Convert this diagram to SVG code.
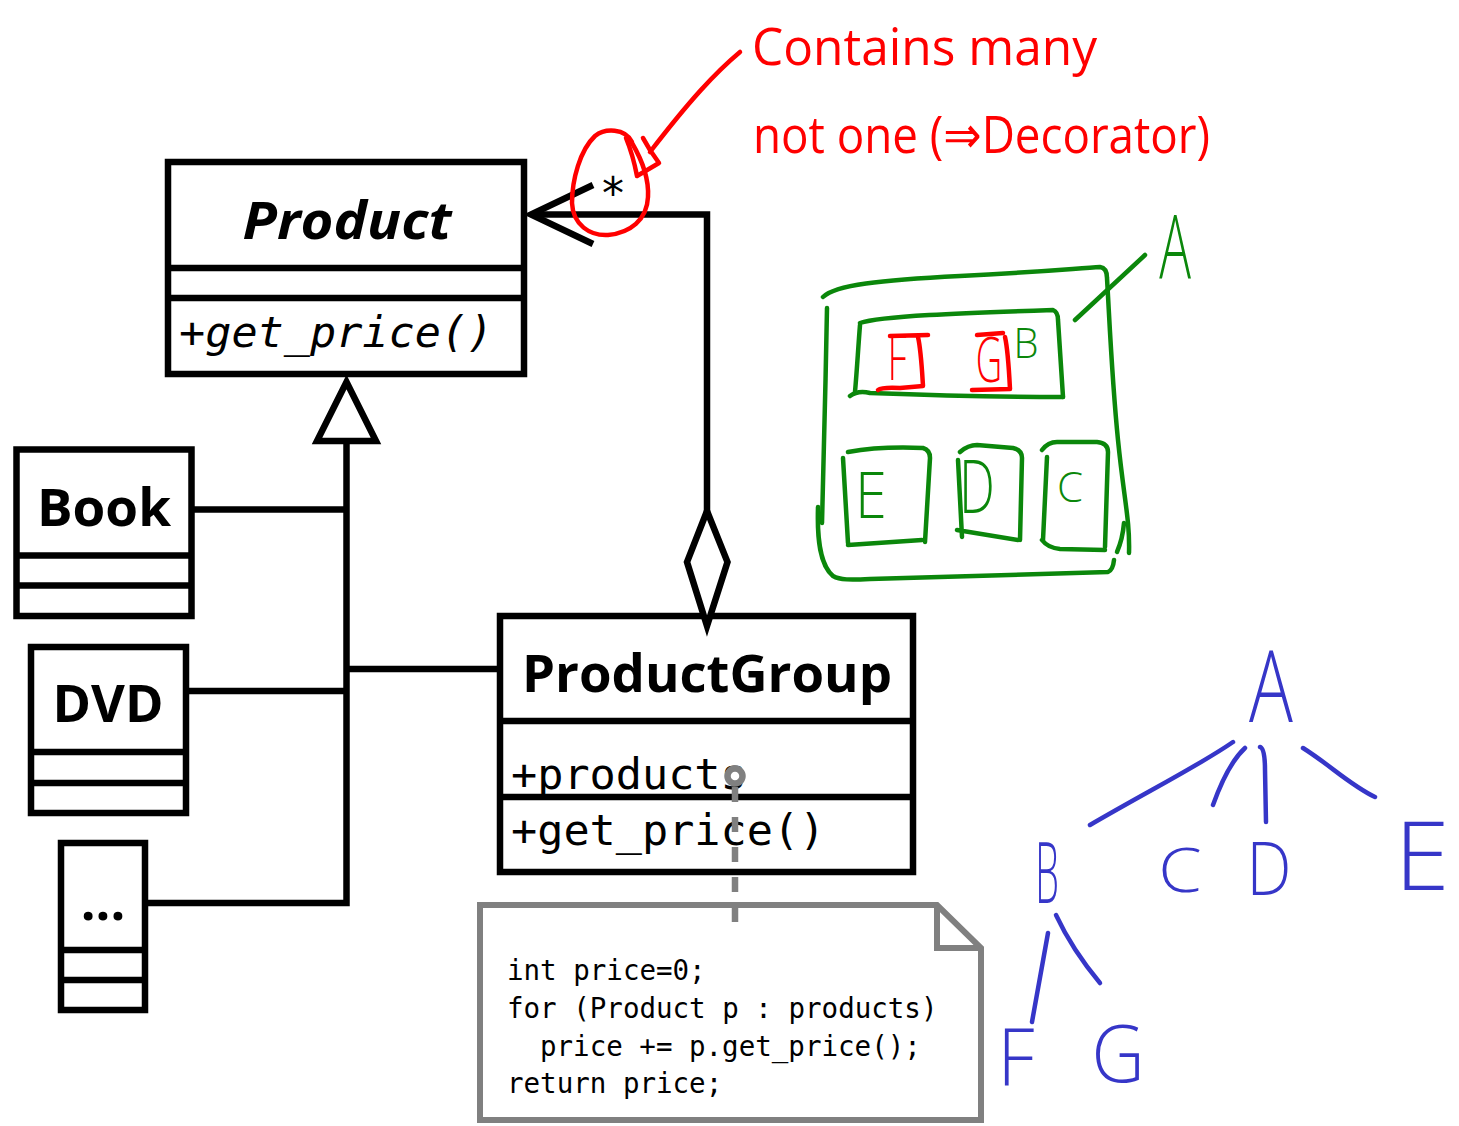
<svg xmlns="http://www.w3.org/2000/svg" width="1459" height="1126" viewBox="0 0 1459 1126">
  <style>
    .box { fill: #ffffff; stroke: #000000; stroke-width: 6.5; }
    .line { fill: none; stroke: #000000; stroke-width: 6.5; stroke-linejoin: miter; }
    .title { font-family: "Open Sans", "Liberation Sans", sans-serif; font-weight: 700; font-size: 52px; fill: #000; text-anchor: middle; }
    .mono { font-family: "DejaVu Sans Mono", "Liberation Mono", monospace; font-size: 43.5px; fill: #000; }
    .code { font-family: "DejaVu Sans Mono", "Liberation Mono", monospace; font-size: 27.5px; fill: #000; }
    .note { fill: #ffffff; stroke: #808080; stroke-width: 6; }
    .ink { fill: none; stroke-width: 4.5; stroke-linecap: round; stroke-linejoin: round; }
    .red { stroke: #ff0000; }
    .green { stroke: #0b870b; }
    .blue { stroke: #3636c8; }
    .hand { font-family: "Open Sans", "Liberation Sans", sans-serif; font-weight: 300; text-anchor: middle; }
    .redtext { font-family: "Open Sans", "Liberation Sans", "DejaVu Sans", sans-serif; font-size: 52px; fill: #ff0000; }
  </style>

  <rect width="1459" height="1126" fill="#ffffff"/>

  <!-- Product (abstract class) -->
  <g id="product">
    <rect class="box" x="168" y="162" width="356" height="212"/>
    <line class="line" x1="168" y1="268" x2="524" y2="268"/>
    <line class="line" x1="168" y1="298" x2="524" y2="298"/>
    <text class="title" x="347" y="239" font-style="italic" textLength="209" lengthAdjust="spacingAndGlyphs">Product</text>
    <text class="mono" x="179" y="347" font-style="italic">+get_price()</text>
  </g>

  <!-- Book -->
  <g id="book">
    <rect class="box" x="16.5" y="449.5" width="175" height="166.5"/>
    <line class="line" x1="16.5" y1="555.5" x2="191.5" y2="555.5"/>
    <line class="line" x1="16.5" y1="585.5" x2="191.5" y2="585.5"/>
    <text class="title" x="104" y="526" textLength="134" lengthAdjust="spacingAndGlyphs">Book</text>
  </g>

  <!-- DVD -->
  <g id="dvd">
    <rect class="box" x="31" y="647" width="155" height="166"/>
    <line class="line" x1="31" y1="752" x2="186" y2="752"/>
    <line class="line" x1="31" y1="783" x2="186" y2="783"/>
    <text class="title" x="108" y="722" textLength="111" lengthAdjust="spacingAndGlyphs">DVD</text>
  </g>

  <!-- further subclasses -->
  <g id="more">
    <rect class="box" x="61" y="843" width="84" height="167"/>
    <line class="line" x1="61" y1="950" x2="145" y2="950"/>
    <line class="line" x1="61" y1="980" x2="145" y2="980"/>
    <text class="title" x="103" y="920">...</text>
  </g>

  <!-- ProductGroup -->
  <g id="productgroup">
    <rect x="500" y="616" width="413" height="256" fill="#ffffff"/>
    <text class="title" x="707" y="692" textLength="370" lengthAdjust="spacingAndGlyphs">ProductGroup</text>
    <text class="mono" x="511" y="789">+products</text>
    <text class="mono" x="511" y="845">+get_price()</text>
    <rect class="box" x="500" y="616" width="413" height="256" fill="none" style="fill:none"/>
    <line class="line" x1="500" y1="721" x2="913" y2="721"/>
    <line class="line" x1="500" y1="797" x2="913" y2="797"/>
  </g>

  <!-- note with the get_price() implementation -->
  <g id="note">
    <path class="note" d="M 480 905 H 937 L 981 948 V 1120 H 480 Z"/>
    <path class="note" d="M 937 905 V 948 H 981" fill="none" style="fill:none"/>
    <text class="code" x="507" y="980">int price=0;</text>
    <text class="code" x="507" y="1018">for (Product p : products)</text>
    <text class="code" x="540" y="1056">price += p.get_price();</text>
    <text class="code" x="507" y="1093">return price;</text>
  </g>

  <!-- connectors -->
  <g id="connectors">
    <!-- generalization to Product -->
    <path class="line" d="M 145 903 H 346.5 V 441"/>
    <line class="line" x1="191.5" y1="509.5" x2="346.5" y2="509.5"/>
    <line class="line" x1="186" y1="691" x2="346.5" y2="691"/>
    <line class="line" x1="346.5" y1="669" x2="500" y2="669"/>
    <path class="line" d="M 346.5 382 L 376 441 L 317 441 Z" fill="#ffffff" style="fill:#ffffff"/>
    <!-- aggregation ProductGroup -> Product (many) -->
    <path class="line" d="M 707 512 V 214.5 H 532"/>
    <path class="line" d="M 593 185 L 531 214.5 L 593 244"/>
    <path class="line" d="M 707 511 L 727.5 562 L 707 626 L 687 562 Z" fill="#ffffff" style="fill:#ffffff"/>
    <text x="613" y="209" font-family="DejaVu Sans, sans-serif" font-size="44" text-anchor="middle">*</text>
    <!-- note anchor -->
    <path d="M 735 787 V 922" fill="none" stroke="#808080" stroke-width="6.5" stroke-dasharray="15 15"/>
    <circle cx="735" cy="776" r="7.5" fill="#ffffff" stroke="#808080" stroke-width="6.5"/>
  </g>

  <!-- red remark -->
  <g id="remark">
    <path class="ink red" d="M 632 142 C 625 128, 605 128, 595 136 C 580 150, 572 180, 572 203 C 573 225, 590 236, 608 235 C 630 233, 647 220, 648 197 C 649 180, 642 160, 632 143"/>
    <path class="ink red" d="M 740 52 C 715 73, 690 100, 650 152"/>
    <path class="ink red" d="M 626 138 Q 633 155, 637 176 L 659 163 L 650 150 L 643 138"/>
    <text class="redtext" x="752" y="65" textLength="345" lengthAdjust="spacingAndGlyphs">Contains many</text>
    <text class="redtext" x="753" y="153" textLength="457" lengthAdjust="spacingAndGlyphs">not one (⇒Decorator)</text>
  </g>

  <!-- green nesting sketch -->
  <g id="nesting">
    <path class="ink green" d="M 823 297 C 835 285, 880 280, 960 276 S 1080 268, 1100 267 Q 1107 268, 1107 278 C 1110 330, 1112 380, 1118 440 S 1130 520, 1129 553"/>
    <path class="ink green" d="M 827 308 C 826 380, 823 460, 822 523"/>
    <path class="ink green" d="M 818 507 C 817 540, 820 565, 833 576 C 840 580, 850 580, 870 579 L 1108 572 Q 1113 570, 1114 560"/>
    <path class="ink green" d="M 1124 523 C 1123 535, 1120 545, 1117 552"/>
    <path class="ink green" d="M 1075 320 L 1145 255"/>
    <!-- B -->
    <path class="ink green" d="M 860 325 C 858 350, 857 370, 855 392"/>
    <path class="ink green" d="M 860 323 C 880 316, 960 313, 1053 310 Q 1058 312, 1058 320 L 1063 397"/>
    <path class="ink green" d="M 850 396 Q 858 390, 870 393 C 950 396, 1020 397, 1063 397"/>
    <!-- F and G inside B -->
    <path class="ink red" d="M 878 390 Q 882 387, 900 388 L 923 386 C 922 370, 921 350, 918 337 M 890 336 L 928 335"/>
    <path class="ink red" d="M 972 390 L 1010 389 C 1009 370, 1008 350, 1005 337 M 977 335 L 1003 333"/>
    <!-- E, D, C -->
    <path class="ink green" d="M 848 452 C 870 448, 900 447, 923 448 Q 930 450, 930 458 L 925 542 M 843 458 L 848 543 M 848 545 L 922 540"/>
    <path class="ink green" d="M 960 452 Q 968 445, 977 445 L 1013 448 Q 1022 450, 1022 458 L 1020 540 M 958 460 L 962 537 M 957 530 L 1018 540"/>
    <path class="ink green" d="M 1042 450 Q 1048 442, 1057 442 L 1097 442 Q 1108 443, 1108 452 L 1105 547 M 1047 457 L 1043 540 M 1042 540 Q 1048 548, 1060 549 L 1105 550"/>
    <g class="hand" font-size="88" fill="#0b870b">
      <text transform="translate(1175 278) scale(0.6 1)">A</text>
      <text transform="translate(1026 358) scale(0.95 1)" font-size="42">B</text>
      <text transform="translate(871 518) scale(0.9 1)" font-size="64">E</text>
      <text transform="translate(977 513) scale(0.68 1)" font-size="74">D</text>
      <text transform="translate(1070 502) scale(1 1)" font-size="42">C</text>
    </g>
    <g class="hand" font-size="63" fill="#ff0000">
      <text transform="translate(897 380) scale(0.6 1)">F</text>
      <text transform="translate(989 382) scale(0.58 1)">G</text>
    </g>
  </g>

  <!-- blue tree -->
  <g id="tree">
    <path class="ink blue" d="M 1090 825 C 1150 790, 1200 765, 1233 742"/>
    <path class="ink blue" d="M 1213 805 C 1222 780, 1232 760, 1245 748"/>
    <path class="ink blue" d="M 1260 747 Q 1265 748, 1265 770 L 1266 822"/>
    <path class="ink blue" d="M 1303 748 C 1330 765, 1350 785, 1375 797"/>
    <path class="ink blue" d="M 1048 933 L 1032 1022"/>
    <path class="ink blue" d="M 1056 915 C 1070 945, 1085 965, 1100 983"/>
    <g class="hand" fill="#3636c8">
      <text transform="translate(1271 722) scale(0.73 1)" font-size="100">A</text>
      <text transform="translate(1047 903) scale(0.45 1)" font-size="84">B</text>
      <text transform="translate(1180 892) scale(1.15 1)" font-size="61">C</text>
      <text transform="translate(1269 895) scale(0.86 1)" font-size="74">D</text>
      <text transform="translate(1422 890) scale(1.05 1)" font-size="95">E</text>
      <text transform="translate(1016 1085) scale(0.92 1)" font-size="80">F</text>
      <text transform="translate(1118 1082) scale(0.92 1)" font-size="80">G</text>
    </g>
  </g>
</svg>
